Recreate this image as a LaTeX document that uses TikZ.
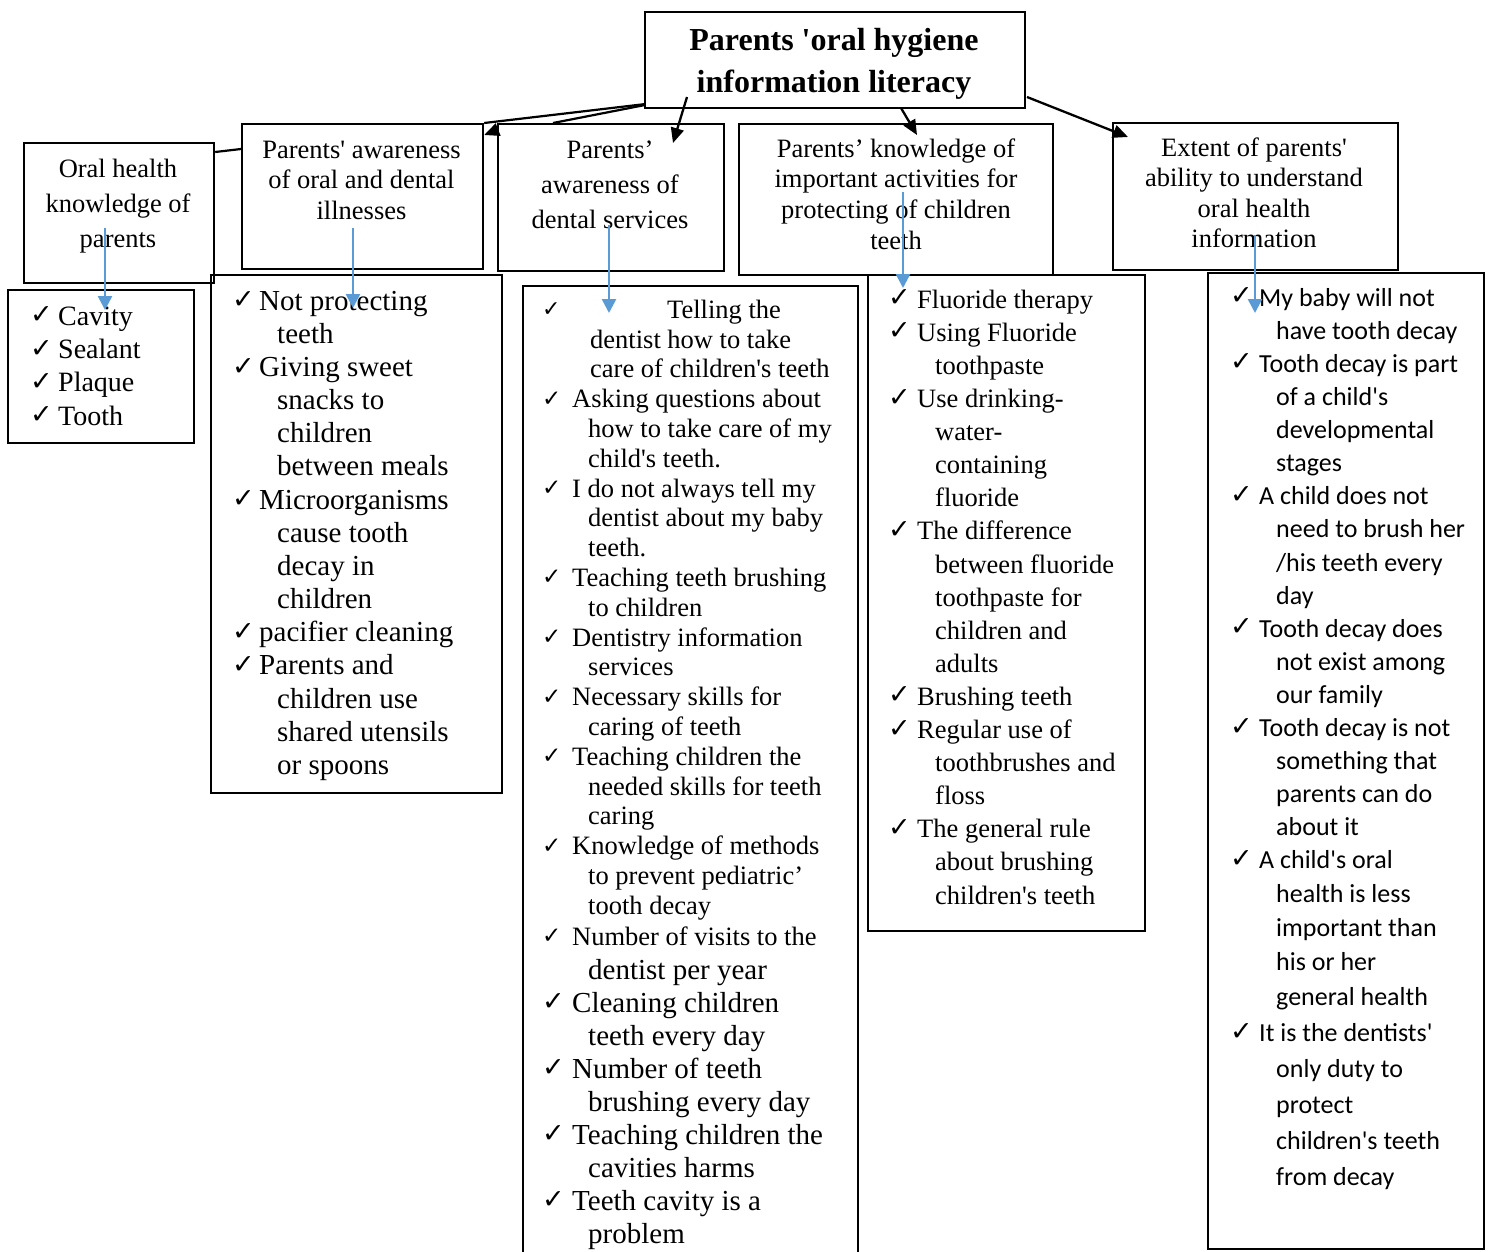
\documentclass[tikz,border=0pt]{standalone}
\usepackage{fontspec}
\newfontfamily\tmsfont{Liberation Serif}
\newfontfamily\calfont{Carlito}
\newfontfamily\ckfont{DejaVu Sans}
\usetikzlibrary{arrows.meta}
\definecolor{bluec}{HTML}{5B9BD5}
\newcommand\myck[2][27]{\makebox[#2pt][l]{\raisebox{1.5pt}{\ckfont\fontsize{#1}{#1}\selectfont ✓}}}
\newcommand\myin[1]{\hspace*{#1pt}}
\newcommand\strt{\rule{0pt}{25pt}}
\begin{document}
\begin{tikzpicture}[x=1pt,y=-1pt,
  box/.style={draw, line width=2.2pt, inner sep=0pt, anchor=north west},
  htext/.style={align=center, inner sep=0pt, anchor=north},
  ltext/.style={align=left, inner sep=0pt, anchor=north west},
  blk/.style={line width=2.3pt, -{Triangle[length=15pt,width=13pt]}},
  blu/.style={draw=bluec, line width=2.6pt, -{Triangle[length=14pt,width=14pt]}}]
\fill[white] (0,0) rectangle (1489,1251);
\useasboundingbox (0,0) rectangle (1489,1251);

% ---------- header boxes ----------
\node[box, minimum width=380, minimum height=96] (top) at (644,11) {};
\node[htext, font={\tmsfont\bfseries\fontsize{32}{42}\selectfont}] (topt) at (834,20)
  {\rule{0pt}{30pt}Parents 'oral hygiene\\information literacy};

\node[box, minimum width=190, minimum height=140] (b1) at (23,142) {};
\node[htext, font={\tmsfont\fontsize{26.5}{35}\selectfont}] (b1t) at (118,152)
  {\strt Oral health\\knowledge of\\parents};

\node[box, minimum width=241, minimum height=145] (b2) at (241,123) {};
\node[htext, font={\tmsfont\fontsize{26.5}{30.5}\selectfont}] (b2t) at (361.5,133)
  {\strt Parents' awareness\\of oral and dental\\illnesses};

\node[box, minimum width=226, minimum height=147] (b3) at (497,123) {};
\node[htext, font={\tmsfont\fontsize{26.5}{35}\selectfont}] (b3t) at (610,133)
  {\strt Parents’\\awareness of\\dental services};

\node[box, minimum width=314, minimum height=151] (b4) at (738,123) {};
\node[htext, font={\tmsfont\fontsize{26.5}{30.7}\selectfont}] (b4t) at (896,132)
  {\strt Parents’ knowledge of\\important activities for\\protecting of children\\teeth};

\node[box, minimum width=285, minimum height=147] (b5) at (1112,122) {};
\node[htext, font={\tmsfont\fontsize{26.5}{30.5}\selectfont}] (b5t) at (1254,131)
  {\strt Extent of parents'\\ability to understand\\oral health\\information};

% ---------- list boxes ----------
\node[box, minimum width=186, minimum height=153] (l1) at (7,289) {};
\node[ltext, font={\tmsfont\fontsize{28}{33.3}\selectfont}] (l1t) at (30,300)
  {\strt\myck{28}Cavity\\\myck{28}Sealant\\\myck{28}Plaque\\\myck{28}Tooth};

\node[box, minimum width=291, minimum height=518] (l2) at (210,274) {};
\node[ltext, font={\tmsfont\fontsize{29}{33.15}\selectfont}] (l2t) at (232,285)
  {\strt\myck{27}Not protecting\\
   \myin{45}teeth\\
   \myck{27}Giving sweet\\
   \myin{45}snacks to\\
   \myin{45}children\\
   \myin{45}between meals\\
   \myck{27}Microorganisms\\
   \myin{45}cause tooth\\
   \myin{45}decay in\\
   \myin{45}children\\
   \myck{27}pacifier cleaning\\
   \myck{27}Parents and\\
   \myin{45}children use\\
   \myin{45}shared utensils\\
   \myin{45}or spoons};

\node[box, minimum width=335, minimum height=1000] (l3) at (522,285) {};
\node[ltext, font={\tmsfont\fontsize{26.5}{29.8}\selectfont}] (l3a) at (542,293)
  {\strt\myck[22]{125}Telling the\\
   \myin{48}dentist how to take\\
   \myin{48}care of children's teeth\\
   \myck[23]{30}Asking questions about\\
   \myin{46}how to take care of my\\
   \myin{46}child's teeth.\\
   \myck[23]{30}I do not always tell my\\
   \myin{46}dentist about my baby\\
   \myin{46}teeth.\\
   \myck[23]{30}Teaching teeth brushing\\
   \myin{46}to children\\
   \myck[23]{30}Dentistry information\\
   \myin{46}services\\
   \myck[23]{30}Necessary skills for\\
   \myin{46}caring of teeth\\
   \myck[23]{30}Teaching children the\\
   \myin{46}needed skills for teeth\\
   \myin{46}caring\\
   \myck[23]{30}Knowledge of methods\\
   \myin{46}to prevent pediatric’\\
   \myin{46}tooth decay\\[1.2pt]
   \myck[23]{30}Number of visits to the};
\node[ltext, font={\tmsfont\fontsize{29}{33}\selectfont}] (l3b) at (542,954)
  {\strt\myin{46}dentist per year\\
   \myck{30}Cleaning children\\
   \myin{46}teeth every day\\
   \myck{30}Number of teeth\\
   \myin{46}brushing every day\\
   \myck{30}Teaching children the\\
   \myin{46}cavities harms\\
   \myck{30}Teeth cavity is a\\
   \myin{46}problem};

\node[box, minimum width=277, minimum height=656] (l4) at (867,274) {};
\node[ltext, font={\tmsfont\fontsize{26.5}{33.1}\selectfont}] (l4t) at (888,283)
  {\strt\myck{29}Fluoride therapy\\
   \myck{29}Using Fluoride\\
   \myin{47}toothpaste\\
   \myck{29}Use drinking-\\
   \myin{47}water-\\
   \myin{47}containing\\
   \myin{47}fluoride\\
   \myck{29}The difference\\
   \myin{47}between fluoride\\
   \myin{47}toothpaste for\\
   \myin{47}children and\\
   \myin{47}adults\\
   \myck{29}Brushing teeth\\
   \myck{29}Regular use of\\
   \myin{47}toothbrushes and\\
   \myin{47}floss\\
   \myck{29}The general rule\\
   \myin{47}about brushing\\
   \myin{47}children's teeth};

\node[box, minimum width=276, minimum height=976] (l5) at (1207,272) {};
\node[ltext, font={\calfont\fontsize{26}{33.1}\selectfont}] (l5t) at (1230,281)
  {\strt\myck{29}My baby will not\\
   \myin{46}have tooth decay\\
   \myck{29}Tooth decay is part\\
   \myin{46}of a child's\\
   \myin{46}developmental\\
   \myin{46}stages\\
   \myck{29}A child does not\\
   \myin{46}need to brush her\\
   \myin{46}/his teeth every\\
   \myin{46}day\\
   \myck{29}Tooth decay does\\
   \myin{46}not exist among\\
   \myin{46}our family\\
   \myck{29}Tooth decay is not\\
   \myin{46}something that\\
   \myin{46}parents can do\\
   \myin{46}about it\\
   \myck{29}A child's oral\\[0.9pt]
   \myin{46}health is less\\[0.9pt]
   \myin{46}important than\\[0.9pt]
   \myin{46}his or her\\[1.9pt]
   \myin{46}general health\\[2.9pt]
   \myck{29}It is the dentists'\\[2.9pt]
   \myin{46}only duty to\\[2.9pt]
   \myin{46}protect\\[2.9pt]
   \myin{46}children's teeth\\[2.9pt]
   \myin{46}from decay};

% ---------- black connectors ----------
\draw[line width=2.2pt] (b1.north east |- 0,152) -- (b2.west |- 0,149);
\draw[line width=2.2pt] ([yshift=5pt]top.south west) -- (b2.north east);
\draw[line width=2.2pt] ([yshift=4pt]top.south west) -- ([xshift=56pt]b3.north west);
\draw[blk] ([yshift=-7pt]b3.north west) -- ([yshift=-12pt]b2.north east);
\coordinate (t3) at (687,97);  \coordinate (e3) at (673,143);
\coordinate (t4) at (901,108); \coordinate (e4) at (917,135);
\coordinate (t5) at (1027,97); \coordinate (e5) at (1128,137);
\draw[blk] (t3) -- (e3);
\draw[blk] (t4) -- (e4);
\draw[blk] (t5) -- (e5);

% ---------- blue connectors ----------
\coordinate (s1) at (105,228);  \coordinate (f1) at (105,310);
\coordinate (s2) at (353,228);  \coordinate (f2) at (353,308);
\coordinate (s3) at (609,225);  \coordinate (f3) at (609,313);
\coordinate (s4) at (903,192);  \coordinate (f4) at (903,288);
\coordinate (s5) at (1255,235); \coordinate (f5) at (1255,313);
\draw[blu] (s1) -- (f1);
\draw[blu] (s2) -- (f2);
\draw[blu] (s3) -- (f3);
\draw[blu] (s4) -- (f4);
\draw[blu] (s5) -- (f5);
\end{tikzpicture}
\end{document}
